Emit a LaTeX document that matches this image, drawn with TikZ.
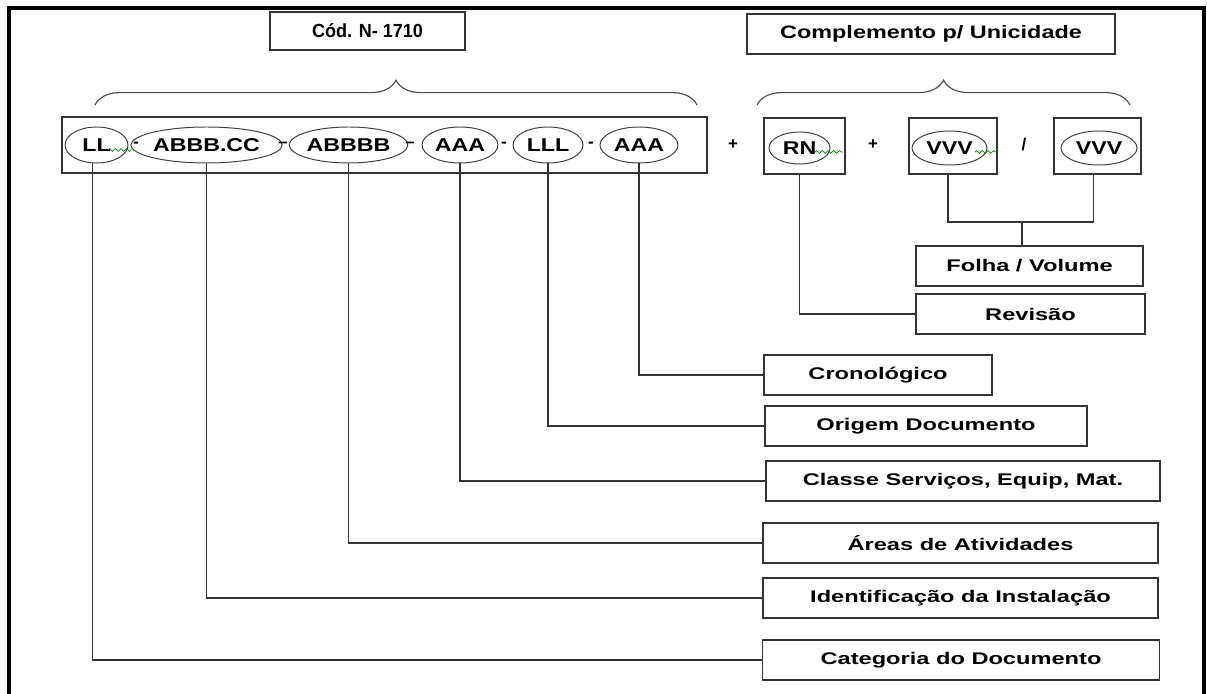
\documentclass[tikz,border=0pt]{standalone}
\usepackage{fontspec}
\setmainfont{Liberation Sans}
\newfontfamily\lblfont[FakeStretch=1.4]{Liberation Sans}
\newfontfamily\ellfont[FakeStretch=1.25]{Liberation Sans}
\newfontfamily\codfont[FakeStretch=0.95]{Liberation Sans}
\newfontfamily\complfont[FakeStretch=1.3]{Liberation Sans}
\usetikzlibrary{shapes.geometric,decorations.pathreplacing,decorations.pathmorphing}

\def\u{0.025cm}

\begin{document}
\begin{tikzpicture}[x=\u,y=-\u,line width=0.8pt,draw=black!80]
	\tikzstyle{codebox}=[draw,minimum height=56*\u,inner sep=0pt]
	\tikzstyle{field}=[ellipse,draw=black!75,line width=0.7pt,minimum height=36*\u,inner sep=0pt,font=\ellfont\bfseries\fontsize{13.2}{15}\selectfont]
	\tikzstyle{desc}=[draw,minimum height=40*\u,inner sep=0pt,font=\lblfont\bfseries\fontsize{12}{14}\selectfont]
	\tikzstyle{sep}=[inner sep=0pt,font=\bfseries\fontsize{12}{14}\selectfont]
	\tikzstyle{squiggle}=[green!55!black,line width=0.5pt,decorate,decoration={snake,amplitude=1pt,segment length=4pt}]

	\useasboundingbox (0,0) rectangle (1207,694);

	% outer frame (open at the bottom)
	\draw[line width=2.2pt,black] (9,694) -- (9,8) -- (1204,8) -- (1204,694);

	% titles and braces
	\node[desc,minimum width=195*\u,minimum height=38*\u,font=\codfont\bfseries\fontsize{13.5}{15}\selectfont] (cod) at (367.5,31) {Cód. N- 1710};
	\node[desc,minimum width=368*\u,font=\complfont\bfseries\fontsize{12.8}{15}\selectfont] (compl) at (931,34) {Complemento p/ Unicidade};
	\draw[black!70,decorate,decoration={brace,amplitude=0.62cm}] (95,105) -- (697,105);
	\draw[black!70,decorate,decoration={brace,amplitude=0.62cm}] (757,105) -- (1130,105);

	% code fields
	\node[codebox,minimum width=645*\u] (code) at (384.5,145) {};
	\node[field,minimum width=63*\u] (LL) at (96.5,145) {LL};
	\node[field,minimum width=123*\u] (inst) at (206.5,145) {ABBB.CC};
	\node[field,minimum width=103*\u] (area) at (348.5,145) {ABBBB};
	\node[field,minimum width=76*\u] (classe) at (460,145) {AAA};
	\node[field,minimum width=70*\u] (orig) at (548,145) {LLL};
	\node[field,minimum width=78*\u] (crono) at (639,145) {AAA};

	\node[sep] (s1) at (136,145) {-};
	\node[sep] (s2) at (283,145) {\textendash};
	\node[sep] (s3) at (410,145) {\textendash};
	\node[sep] (s4) at (504,145) {-};
	\node[sep] (s5) at (591,145) {-};

	% complement fields
	\node[sep] (p1) at (733,145) {+};
	\node[codebox,minimum width=81*\u] (rnbox) at (804.5,146) {};
	\node[field,minimum width=61*\u,minimum height=32*\u] (rn) at (799.5,148) {RN};
	\node[sep] (p2) at (873,145) {+};
	\node[codebox,minimum width=88*\u] (vbox1) at (953,146) {};
	\node[field,minimum width=75*\u,minimum height=34*\u] (v1) at (949.5,148) {VVV};
	\node[sep] (sl) at (1024,145) {/};
	\node[codebox,minimum width=87*\u] (vbox2) at (1097.5,146) {};
	\node[field,minimum width=76*\u,minimum height=34*\u] (v2) at (1099,148) {VVV};

	\draw[squiggle] (108,150) -- (132,150);
	\draw[squiggle] (815,152) -- (843,152);
	\draw[squiggle] (975,152) -- (996,152);

	% descriptions
	\node[desc,minimum width=227*\u] (folha) at (1029.5,266) {Folha / Volume};
	\node[desc,minimum width=229*\u] (rev) at (1030.5,314) {Revisão};
	\node[desc,minimum width=228*\u] (cron) at (878,375) {Cronológico};
	\node[desc,minimum width=322*\u] (origem) at (926,426) {Origem Documento};
	\node[desc,minimum width=394*\u] (cls) at (963,481) {Classe Serviços, Equip, Mat.};
	\node[desc,minimum width=395*\u] (areas) at (960.5,543) {Áreas de Atividades};
	\node[desc,minimum width=395*\u] (ident) at (960.5,598) {Identificação da Instalação};
	\node[desc,minimum width=397*\u] (cat) at (961,660) {Categoria do Documento};

	% connectors
	\coordinate (fj) at (1022,222);
	\draw ([xshift=-5*\u]vbox1.south) |- (fj) -| ([xshift=-4*\u]vbox2.south);
	\draw (fj) -- (fj |- folha.north);
	\draw (rn.south |- rnbox.south) |- (rev.west);
	\draw (crono.south) |- (cron.west);
	\draw (orig.south) |- (origem.west);
	\draw (classe.south) |- (cls.west);
	\draw (area.south) |- (areas.west);
	\draw (inst.south) |- (ident.west);
	\draw (LL.258) |- (cat.west);

\end{tikzpicture}
\end{document}
